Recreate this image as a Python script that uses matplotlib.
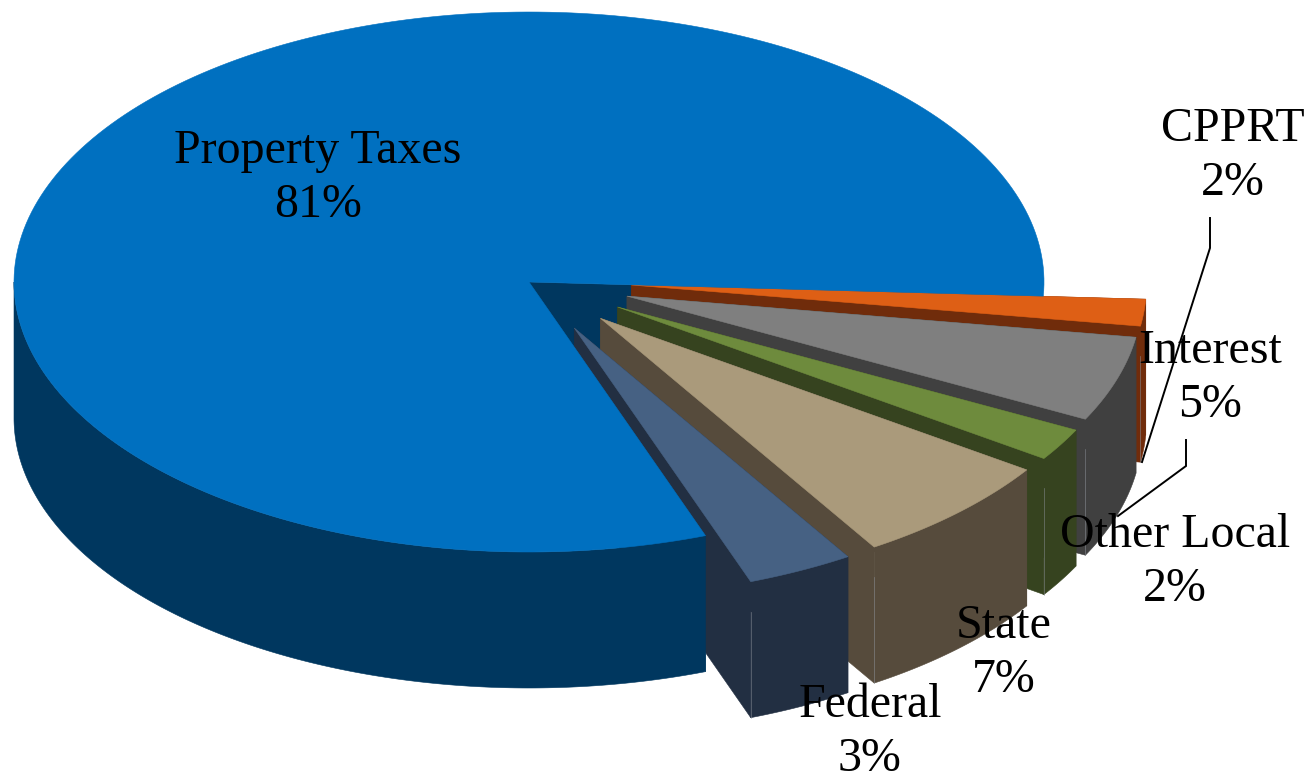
"""Exploded 3D-style revenue pie drawn from flat polygons."""

import matplotlib

matplotlib.use("Agg")
import matplotlib.pyplot as plt
import numpy as np

# shares, printed rounded to whole percent
CATEGORIES = ["Property Taxes", "CPPRT", "Interest", "Other Local", "State", "Federal"]
SHARES = [81.4, 1.6, 5.1, 1.95, 6.6, 3.35]
TOP_COLORS = ["#0070C0", "#DE5F15", "#7F7F7F", "#6E8B3D", "#AA9A7B", "#466183"]
SIDE_COLORS = ["#00375F", "#702C0B", "#404040", "#36431F", "#564B3C", "#222F42"]
EXPLODE = [0.0, 0.2, 0.2, 0.2, 0.2, 0.2]
LABEL_CENTERS = [(318, 178), (1233, 156), (1210, 378), (1175, 562), (1004, 653), (870, 732)]

# leader lines as (label, path) in figure pixels
LEADERS = {
    "CPPRT": [(1210, 218), (1210, 248), (1142, 462)],
    "Interest": [(1186, 440), (1186, 466), (1118, 516)],
}

CENTER_X, CENTER_Y = 529, 282
RADIUS_X, RADIUS_Y = 515, 270
DEPTH = 136
EXPLODE_LIFT = 2.5  # pulled-out slices sit a little higher than plain explode gives
FIRST_SLICE_START = -3.0  # degrees, small slices run clockwise from here


def rim(start, stop, cx, cy):
    theta = np.radians(np.linspace(start, stop, 240))
    return np.column_stack([cx + RADIUS_X * np.cos(theta), cy - RADIUS_Y * np.sin(theta)])


def fill(ax, points, color):
    ax.fill(points[:, 0], points[:, 1], facecolor=color, edgecolor=color, linewidth=0.4)


def lowered(points):
    return points + np.array([0, DEPTH])


def slice_center(start, stop, explode):
    middle = np.radians((start + stop) / 2)
    cx = CENTER_X + explode * RADIUS_X * np.cos(middle)
    cy = CENTER_Y - explode * RADIUS_Y * np.sin(middle)
    if explode > 0:
        cy -= EXPLODE_LIFT
    return cx, cy


def draw_cut_walls(ax, start, stop, explode, color):
    cx, cy = slice_center(start, stop, explode)
    apex = np.array([[cx, cy]])
    edge = rim(start, stop, cx, cy)
    for end in (edge[:1], edge[-1:]):
        fill(ax, np.vstack([apex, end, lowered(end), lowered(apex)]), color)


def draw_outer_and_lid(ax, start, stop, explode, top_color, side_color, corner_line):
    cx, cy = slice_center(start, stop, explode)
    apex = np.array([[cx, cy]])
    edge = rim(start, stop, cx, cy)

    # only the front half of the rim shows a wall
    front = rim(start, max(stop, -180), cx, cy)
    fill(ax, np.vstack([front, lowered(front)[::-1]]), side_color)
    fill(ax, np.vstack([apex, edge]), top_color)

    if corner_line:
        x, y = edge[-1]
        ax.plot([x, x], [y + DEPTH * 0.22, y + DEPTH], color="#8A8F96", linewidth=0.5, alpha=0.7)


def main():
    fig = plt.figure(figsize=(13.13, 7.81), dpi=100)
    ax = fig.add_axes([0, 0, 1, 1])
    ax.set_xlim(0, 1313)
    ax.set_ylim(781, 0)
    ax.axis("off")

    spans = np.array(SHARES) * 3.6
    big_start = FIRST_SLICE_START - spans[1:].sum()
    big_stop = big_start - spans[0]

    # inside of the big slice goes first, its lid and rim go over the small slices
    draw_cut_walls(ax, big_start, big_stop, EXPLODE[0], SIDE_COLORS[0])

    start = FIRST_SLICE_START
    for i in range(1, len(SHARES)):
        stop = start - spans[i]
        draw_cut_walls(ax, start, stop, EXPLODE[i], SIDE_COLORS[i])
        draw_outer_and_lid(ax, start, stop, EXPLODE[i], TOP_COLORS[i], SIDE_COLORS[i], True)
        start = stop

    draw_outer_and_lid(ax, big_start, big_stop, EXPLODE[0], TOP_COLORS[0], SIDE_COLORS[0], False)

    for path in LEADERS.values():
        xs, ys = zip(*path)
        ax.plot(xs, ys, color="black", linewidth=1.4, solid_joinstyle="miter")

    for name, share, (x, y) in zip(CATEGORIES, SHARES, LABEL_CENTERS):
        ax.text(
            x, y, f"{name}\n{share:.0f}%",
            ha="center", va="center", multialignment="center",
            fontsize=34.5, family="Liberation Serif", linespacing=1.32, color="black",
        )

    fig.savefig("out.png", dpi=100)
    plt.close(fig)


if __name__ == "__main__":
    main()
